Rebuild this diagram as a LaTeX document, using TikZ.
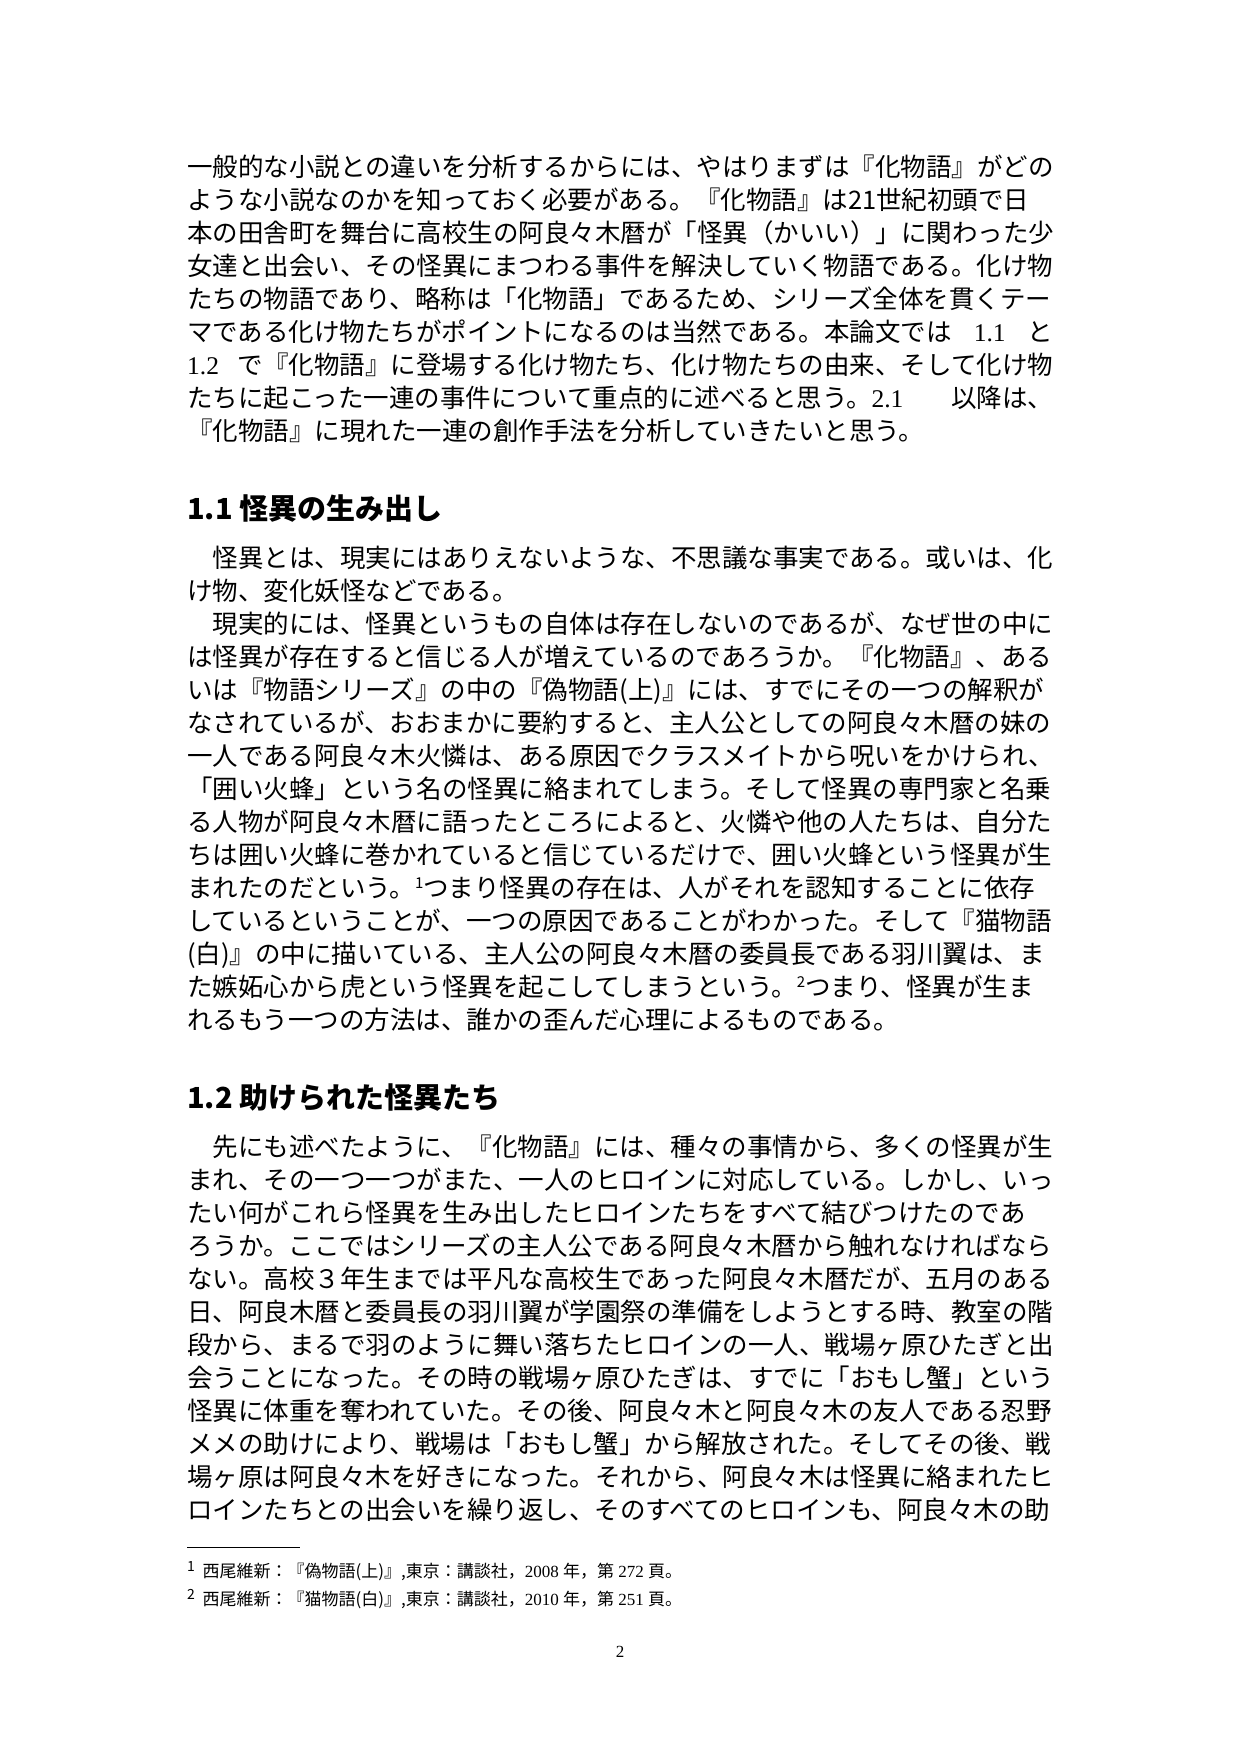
\documentclass[tikz,border=0pt]{standalone}
\usepackage{fontspec}
\setmainfont{Noto Sans CJK JP}
\newfontfamily\serifl{Liberation Serif}
\XeTeXlinebreaklocale "ja"
\XeTeXlinebreakskip=0pt plus 1fil
\newcommand{\jl}[1]{\makebox[866pt][s]{#1}}
\newcommand{\lat}[1]{{\serifl #1}}
\begin{document}
\begin{tikzpicture}[x=1pt,y=-1pt,
  body/.style={anchor=base west,inner sep=0pt,font=\fontsize{25.5}{30}\selectfont},
  head/.style={anchor=base west,inner sep=0pt,font=\fontsize{29}{34}\selectfont\bfseries},
  foot/.style={anchor=base west,inner sep=0pt,font=\fontsize{17}{20}\selectfont}]
\useasboundingbox[fill=white] (0,0) rectangle (1240,1754);
\foreach \t [count=\i] in {
{\jl{一般的な小説との違いを分析するからには、やはりまずは『化物語』がどの}},
{\jl{ような小説なのかを知っておく必要がある。『化物語』は21世紀初頭で日}},
{\jl{本の田舎町を舞台に高校生の阿良々木暦が「怪異（かいい）」に関わった少}},
{\jl{女達と出会い、その怪異にまつわる事件を解決していく物語である。化け物}},
{\jl{たちの物語であり、略称は「化物語」であるため、シリーズ全体を貫くテー}},
{\jl{マである化け物たちがポイントになるのは当然である。本論文では\lat{ 1.1 }と}},
{\jl{\lat{1.2 }で『化物語』に登場する化け物たち、化け物たちの由来、そして化け物}},
{\jl{たちに起こった一連の事件について重点的に述べると思う。\lat{2.1 }以降は、}},
{『化物語』に現れた一連の創作手法を分析していきたいと思う。}}
  \node[body] (p1l\i) at (187,{167+9+33*(\i-1)}) {\t};
\node[head] (h1) at (187,519) {1.1 怪異の生み出し};
\foreach \t [count=\i] in {
{\jl{　怪異とは、現実にはありえないような、不思議な事実である。或いは、化}},
{け物、変化妖怪などである。},
{\jl{　現実的には、怪異というもの自体は存在しないのであるが、なぜ世の中に}},
{\jl{は怪異が存在すると信じる人が増えているのであろうか。『化物語』、ある}},
{\jl{いは『物語シリーズ』の中の『偽物語(上)』には、すでにその一つの解釈が}},
{\jl{なされているが、おおまかに要約すると、主人公としての阿良々木暦の妹の}},
{\jl{一人である阿良々木火憐は、ある原因でクラスメイトから呪いをかけられ、}},
{\jl{「囲い火蜂」という名の怪異に絡まれてしまう。そして怪異の専門家と名乗}},
{\jl{る人物が阿良々木暦に語ったところによると、火憐や他の人たちは、自分た}},
{\jl{ちは囲い火蜂に巻かれていると信じているだけで、囲い火蜂という怪異が生}},
{\jl{まれたのだという。\raisebox{9pt}{\fontsize{15}{15}\selectfont 1}つまり怪異の存在は、人がそれを認知することに依存}},
{\jl{しているということが、一つの原因であることがわかった。そして『猫物語}},
{\jl{(白)』の中に描いている、主人公の阿良々木暦の委員長である羽川翼は、ま}},
{\jl{た嫉妬心から虎という怪異を起こしてしまうという。\raisebox{9pt}{\fontsize{15}{15}\selectfont 2}つまり、怪異が生ま}},
{れるもう一つの方法は、誰かの歪んだ心理によるものである。}}
  \node[body] (p2l\i) at (187,{558+9+33*(\i-1)}) {\t};
\node[head] (h2) at (187,1108) {1.2 助けられた怪異たち};
\foreach \t [count=\i] in {
{\jl{　先にも述べたように、『化物語』には、種々の事情から、多くの怪異が生}},
{\jl{まれ、その一つ一つがまた、一人のヒロインに対応している。しかし、いっ}},
{\jl{たい何がこれら怪異を生み出したヒロインたちをすべて結びつけたのであ}},
{\jl{ろうか。ここではシリーズの主人公である阿良々木暦から触れなければなら}},
{\jl{ない。高校３年生までは平凡な高校生であった阿良々木暦だが、五月のある}},
{\jl{日、阿良木暦と委員長の羽川翼が学園祭の準備をしようとする時、教室の階}},
{\jl{段から、まるで羽のように舞い落ちたヒロインの一人、戦場ヶ原ひたぎと出}},
{\jl{会うことになった。その時の戦場ヶ原ひたぎは、すでに「おもし蟹」という}},
{\jl{怪異に体重を奪われていた。その後、阿良々木と阿良々木の友人である忍野}},
{\jl{メメの助けにより、戦場は「おもし蟹」から解放された。そしてその後、戦}},
{\jl{場ヶ原は阿良々木を好きになった。それから、阿良々木は怪異に絡まれたヒ}},
{\jl{ロインたちとの出会いを繰り返し、そのすべてのヒロインも、阿良々木の助}}}
  \node[body] (p3l\i) at (187,{1147+9+33*(\i-1)}) {\t};
\draw[line width=1pt] (187,1547) coordinate (r1) -- (300,1547) coordinate (r2);
\node[foot] (f1) at (187,1577) {\raisebox{6pt}{\fontsize{14}{14}\selectfont 1}\ \ 西尾維新：『偽物語(上)』,東京：講談社，\lat{2008 }年，第\lat{ 272 }頁。};
\node[foot] (f2) at (187,1605) {\raisebox{6pt}{\fontsize{14}{14}\selectfont 2}\ \ 西尾維新：『猫物語(白)』,東京：講談社，\lat{2010 }年，第\lat{ 251 }頁。};
\node[anchor=base,inner sep=0pt,font=\fontsize{17}{20}\selectfont\serifl] (pg) at (620,1657) {2};
\end{tikzpicture}
\end{document}
